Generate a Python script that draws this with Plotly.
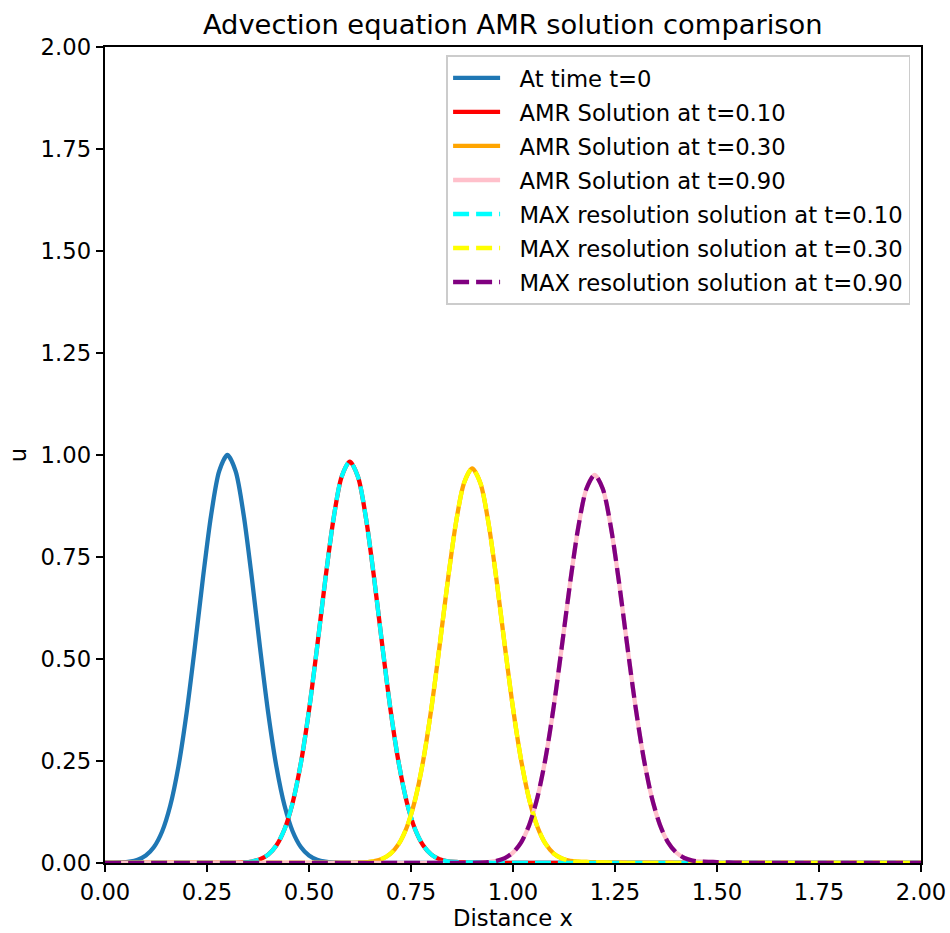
import plotly.graph_objects as go

# x sample positions (Distance x)
x_vals = [0.00, 0.02, 0.04, 0.06, 0.08, 0.10, 0.12, 0.14, 0.16, 0.18,
          0.20, 0.22, 0.24, 0.26, 0.28, 0.30, 0.32, 0.34, 0.36, 0.38,
          0.40, 0.42, 0.44, 0.46, 0.48, 0.50, 0.52, 0.54, 0.56, 0.58,
          0.60, 0.62, 0.64, 0.66, 0.68, 0.70, 0.72, 0.74, 0.76, 0.78,
          0.80, 0.82, 0.84, 0.86, 0.88, 0.90, 0.92, 0.94, 0.96, 0.98,
          1.00, 1.02, 1.04, 1.06, 1.08, 1.10, 1.12, 1.14, 1.16, 1.18,
          1.20, 1.22, 1.24, 1.26, 1.28, 1.30, 1.32, 1.34, 1.36, 1.38,
          1.40, 1.42, 1.44, 1.46, 1.48, 1.50, 1.52, 1.54, 1.56, 1.58,
          1.60, 1.62, 1.64, 1.66, 1.68, 1.70, 1.72, 1.74, 1.76, 1.78,
          1.80, 1.82, 1.84, 1.86, 1.88, 1.90, 1.92, 1.94, 1.96, 1.98,
          2.00]

# initial condition (t=0)
u_t0 = [0.0001, 0.0004, 0.0012, 0.0032, 0.0079, 0.0183, 0.0392, 0.0773, 0.1409, 0.2369,
        0.3679, 0.5273, 0.6977, 0.8521, 0.9608, 1.0, 0.9608, 0.8521, 0.6977, 0.5273,
        0.3679, 0.2369, 0.1409, 0.0773, 0.0392, 0.0183, 0.0079, 0.0032, 0.0012, 0.0004,
        0.0001, 0, 0, 0, 0, 0, 0, 0, 0, 0,
        0, 0, 0, 0, 0, 0, 0, 0, 0, 0,
        0, 0, 0, 0, 0, 0, 0, 0, 0, 0,
        0, 0, 0, 0, 0, 0, 0, 0, 0, 0,
        0, 0, 0, 0, 0, 0, 0, 0, 0, 0,
        0, 0, 0, 0, 0, 0, 0, 0, 0, 0,
        0, 0, 0, 0, 0, 0, 0, 0, 0, 0,
        0]

# AMR solutions
amr_t010 = [0, 0, 0, 0, 0, 0, 0, 0, 0, 0,
            0, 0, 0, 0, 0, 0.0002, 0.0005, 0.0014, 0.0037, 0.0091,
            0.0206, 0.0429, 0.0828, 0.1479, 0.2445, 0.3741, 0.5299, 0.6947, 0.8430, 0.9467,
            0.984, 0.9467, 0.8430, 0.6947, 0.5299, 0.3741, 0.2445, 0.1479, 0.0828, 0.0429,
            0.0206, 0.0093, 0.0042, 0.0025, 0.0018, 0.0014, 0.0010, 0.0007, 0.0004, 0.0002,
            0, 0, 0, 0, 0, 0, 0, 0, 0, 0,
            0, 0, 0, 0, 0, 0, 0, 0, 0, 0,
            0, 0, 0, 0, 0, 0, 0, 0, 0, 0,
            0, 0, 0, 0, 0, 0, 0, 0, 0, 0,
            0, 0, 0, 0, 0, 0, 0, 0, 0, 0,
            0]
amr_t030 = [0, 0, 0, 0, 0, 0, 0, 0, 0, 0,
            0, 0, 0, 0, 0, 0, 0, 0, 0, 0,
            0, 0, 0, 0, 0, 0, 0, 0, 0, 0,
            0.0002, 0.0006, 0.0017, 0.0044, 0.0105, 0.0230, 0.0467, 0.0883, 0.1547, 0.2516,
            0.3796, 0.5316, 0.6906, 0.8327, 0.9315, 0.967, 0.9315, 0.8327, 0.6906, 0.5316,
            0.3796, 0.2516, 0.1547, 0.0883, 0.0467, 0.0232, 0.0110, 0.0052, 0.0032, 0.0024,
            0.0019, 0.0014, 0.0010, 0.0006, 0.0003, 0, 0, 0, 0, 0,
            0, 0, 0, 0, 0, 0, 0, 0, 0, 0,
            0, 0, 0, 0, 0, 0, 0, 0, 0, 0,
            0, 0, 0, 0, 0, 0, 0, 0, 0, 0,
            0]
amr_t090 = [0, 0, 0, 0, 0, 0, 0, 0, 0, 0,
            0, 0, 0, 0, 0, 0, 0, 0, 0, 0,
            0, 0, 0, 0, 0, 0, 0, 0, 0, 0,
            0, 0, 0, 0, 0, 0, 0, 0, 0, 0,
            0, 0, 0, 0, 0, 0.0003, 0.0008, 0.0021, 0.0052, 0.0119,
            0.0255, 0.0507, 0.0938, 0.1614, 0.2584, 0.3847, 0.5329, 0.6866, 0.8228, 0.9171,
            0.951, 0.9171, 0.8228, 0.6866, 0.5329, 0.3847, 0.2584, 0.1614, 0.0938, 0.0507,
            0.0257, 0.0124, 0.0060, 0.0038, 0.0028, 0.0021, 0.0015, 0.0010, 0.0006, 0.0003,
            0, 0, 0, 0, 0, 0, 0, 0, 0, 0,
            0, 0, 0, 0, 0, 0, 0, 0, 0, 0,
            0]

# MAX resolution solutions (visually identical to the AMR ones)
max_t010 = [0, 0, 0, 0, 0, 0, 0, 0, 0, 0,
            0, 0, 0, 0, 0, 0.0002, 0.0005, 0.0014, 0.0037, 0.0091,
            0.0206, 0.0429, 0.0828, 0.1479, 0.2445, 0.3741, 0.5299, 0.6947, 0.8430, 0.9467,
            0.984, 0.9467, 0.8430, 0.6947, 0.5299, 0.3741, 0.2445, 0.1479, 0.0828, 0.0429,
            0.0206, 0.0093, 0.0042, 0.0025, 0.0018, 0.0014, 0.0010, 0.0007, 0.0004, 0.0002,
            0, 0, 0, 0, 0, 0, 0, 0, 0, 0,
            0, 0, 0, 0, 0, 0, 0, 0, 0, 0,
            0, 0, 0, 0, 0, 0, 0, 0, 0, 0,
            0, 0, 0, 0, 0, 0, 0, 0, 0, 0,
            0, 0, 0, 0, 0, 0, 0, 0, 0, 0,
            0]
max_t030 = [0, 0, 0, 0, 0, 0, 0, 0, 0, 0,
            0, 0, 0, 0, 0, 0, 0, 0, 0, 0,
            0, 0, 0, 0, 0, 0, 0, 0, 0, 0,
            0.0002, 0.0006, 0.0017, 0.0044, 0.0105, 0.0230, 0.0467, 0.0883, 0.1547, 0.2516,
            0.3796, 0.5316, 0.6906, 0.8327, 0.9315, 0.967, 0.9315, 0.8327, 0.6906, 0.5316,
            0.3796, 0.2516, 0.1547, 0.0883, 0.0467, 0.0232, 0.0110, 0.0052, 0.0032, 0.0024,
            0.0019, 0.0014, 0.0010, 0.0006, 0.0003, 0, 0, 0, 0, 0,
            0, 0, 0, 0, 0, 0, 0, 0, 0, 0,
            0, 0, 0, 0, 0, 0, 0, 0, 0, 0,
            0, 0, 0, 0, 0, 0, 0, 0, 0, 0,
            0]
max_t090 = [0, 0, 0, 0, 0, 0, 0, 0, 0, 0,
            0, 0, 0, 0, 0, 0, 0, 0, 0, 0,
            0, 0, 0, 0, 0, 0, 0, 0, 0, 0,
            0, 0, 0, 0, 0, 0, 0, 0, 0, 0,
            0, 0, 0, 0, 0, 0.0003, 0.0008, 0.0021, 0.0052, 0.0119,
            0.0255, 0.0507, 0.0938, 0.1614, 0.2584, 0.3847, 0.5329, 0.6866, 0.8228, 0.9171,
            0.951, 0.9171, 0.8228, 0.6866, 0.5329, 0.3847, 0.2584, 0.1614, 0.0938, 0.0507,
            0.0257, 0.0124, 0.0060, 0.0038, 0.0028, 0.0021, 0.0015, 0.0010, 0.0006, 0.0003,
            0, 0, 0, 0, 0, 0, 0, 0, 0, 0,
            0, 0, 0, 0, 0, 0, 0, 0, 0, 0,
            0]

tick_vals = [0.0, 0.25, 0.5, 0.75, 1.0, 1.25, 1.5, 1.75, 2.0]
tick_text = ["0.00", "0.25", "0.50", "0.75", "1.00", "1.25", "1.50", "1.75", "2.00"]

series = [
    ("At time t=0", u_t0, "#1f77b4", "solid"),
    ("AMR Solution at t=0.10", amr_t010, "#ff0000", "solid"),
    ("AMR Solution at t=0.30", amr_t030, "#ffa500", "solid"),
    ("AMR Solution at t=0.90", amr_t090, "#ffc0cb", "solid"),
    ("MAX resolution solution at t=0.10", max_t010, "#00ffff", "16px,7px"),
    ("MAX resolution solution at t=0.30", max_t030, "#ffff00", "16px,7px"),
    ("MAX resolution solution at t=0.90", max_t090, "#800080", "16px,7px"),
]

FONT = "DejaVu Sans"
FS = 22.7
GAP = "\u00a0\u00a0"  # visual gap between legend line sample and label
fig = go.Figure()
for k, (name, ys, color, dash) in enumerate(series):
    fig.add_trace(go.Scatter(
        x=x_vals, y=ys, mode="lines", name=GAP + name, legendgroup=f"g{k}",
        line=dict(color=color, width=4.3, dash=dash, shape="spline", smoothing=0.8),
    ))

axis_common = dict(
    range=[0, 2], tickvals=tick_vals, ticktext=tick_text,
    showgrid=False, zeroline=False, showline=True, mirror=True,
    linecolor="black", linewidth=1.7, ticks="outside", ticklen=7.5,
    tickwidth=1.7, tickcolor="black", automargin=False,
    tickfont=dict(family=FONT, size=FS, color="black"),
)

fig.update_layout(
    width=950, height=933,
    margin=dict(l=105, r=29, t=47, b=70),
    paper_bgcolor="white", plot_bgcolor="white",
    font=dict(family=FONT, color="black"),
    title=dict(text="Advection equation AMR solution comparison",
               font=dict(family=FONT, size=27.3, color="black"),
               x=0.5397, xanchor="center", y=0.974, yanchor="middle"),
    xaxis=dict(**axis_common,
               title=dict(text="Distance x", font=dict(family=FONT, size=FS, color="black"), standoff=6)),
    yaxis=dict(**axis_common,
               title=dict(text="u", font=dict(family=FONT, size=FS, color="black"), standoff=8)),
    legend=dict(x=0.987, y=0.9902, xanchor="right", yanchor="top",
                bgcolor="rgba(255,255,255,0.8)", bordercolor="#cccccc", borderwidth=1.7,
                itemwidth=47, tracegroupgap=1.5, traceorder="grouped",
                font=dict(family=FONT, size=FS, color="black")),
    showlegend=True,
)

fig.write_html("out.html")
